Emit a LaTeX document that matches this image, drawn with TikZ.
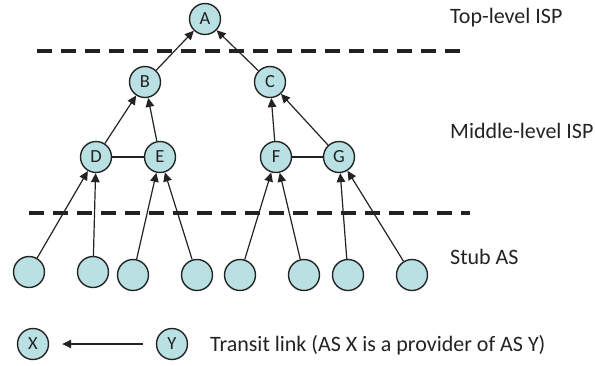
\documentclass[tikz,border=0pt]{standalone}
\usepackage{fontspec}
\setmainfont{Carlito}
\usetikzlibrary{arrows.meta}
\definecolor{asfill}{RGB}{185,224,226}
\definecolor{inkgray}{RGB}{35,35,35}
\begin{document}
\begin{tikzpicture}[x=1pt,y=-1pt,
	asnode/.style={circle,draw=inkgray,line width=1.4pt,fill=asfill,minimum size=31pt,inner sep=0pt,
		font=\fontsize{18.5}{20}\selectfont,text=inkgray},
	transit/.style={draw=inkgray,line width=1.2pt,-{Triangle[length=9pt,width=8.5pt]}},
	peer/.style={draw=inkgray,line width=1.2pt},
	layer/.style={draw=inkgray,line width=3.6pt,dash pattern=on 15pt off 9pt},
	tag/.style={anchor=west,inner sep=0pt,font=\fontsize{22}{24}\selectfont,text=inkgray}]
	\useasboundingbox (0,0) rectangle (595,365);

	% providers
	\node [asnode] (A) at (205,19) {A};
	\node [asnode] (B) at (145,82) {B};
	\node [asnode] (C) at (270,82) {C};
	\node [asnode] (D) at (96,157) {D};
	\node [asnode] (E) at (160,157) {E};
	\node [asnode] (F) at (276,157) {F};
	\node [asnode] (G) at (339,157) {G};

	\draw[transit] (B) -- (A);
	\draw[transit] (C) -- (A);
	\draw[transit] (D) -- (B);
	\draw[transit] (E) -- (B);
	\draw[transit] (F) -- (C);
	\draw[transit] (G) -- (C);
	\draw[peer] (D) -- (E) (F) -- (G);

	% stub ASes
	\foreach \x/\y/\p [count=\i] in {29/272/D,93/272/D,133/275/E,197/275/E,240/275/F,304/275/F,348/275/G,412/275/G}
	  {\node [asnode] (s\i) at (\x,\y) {};
	   \draw[transit] (s\i) -- (\p);}

	\draw[layer] (37,51) -- (467,51);
	\draw[layer] (29,213) -- (470,213);

	\node [tag] (top) at (450,18) {Top-level ISP};
	\node [tag] (mid) at (450,131) {Middle-level ISP};
	\node [tag] (stub) at (450,257) {Stub AS};

	% legend
	\node [asnode] (X) at (33,344) {X};
	\node [asnode] (Y) at (172,344) {Y};
	\draw[transit,shorten >=13pt,shorten <=13pt] (Y) -- (X);
	\node [tag] (note) at (210,345) {Transit link (AS X is a provider of AS Y)};
\end{tikzpicture}
\end{document}
